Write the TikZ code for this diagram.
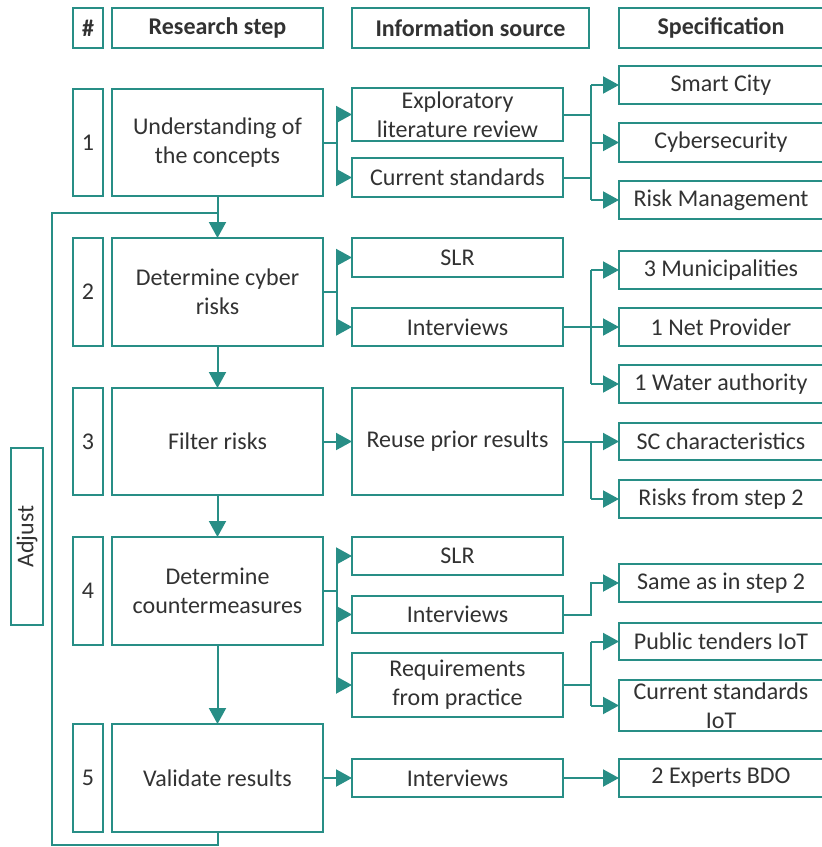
\documentclass[tikz,border=0pt]{standalone}
\usepackage{fontspec}
\setmainfont{Carlito}
\usetikzlibrary{arrows.meta}
\definecolor{tealline}{RGB}{40,142,134}
\definecolor{ink}{RGB}{50,50,50}
\tikzset{
  box/.style={draw=tealline, line width=1.8pt, fill=white, text=ink, align=center,
              inner sep=0pt, outer sep=0pt, font=\fontsize{24}{29}\selectfont},
  headbox/.style={box, font=\fontsize{24}{29}\selectfont\bfseries},
  link/.style={draw=tealline, line width=2pt},
  arr/.style={link, -{Triangle[length=16pt,width=17pt]}},
}
% \bx{style}{name}{x1}{y1}{x2}{y2}{text}: box spanning the given corners
\newcommand\bx[7]{%
  \node[#1, minimum width={#5-#3}, minimum height={#6-#4}] (#2)
    at ({(#3+#5)/2},{(#4+#6)/2}) {#7};}
\begin{document}
\begin{tikzpicture}[x=1pt, y=-1pt]
\useasboundingbox (0,0) rectangle (822,847);

% column headers
\bx{headbox}{hnum}{73}{8}{103}{48}{\#}
\bx{headbox}{hstep}{112}{8}{323}{48}{Research step}
\bx{headbox}{hsrc}{352}{8}{589}{48}{Information source}
\bx{headbox}{hspec}{619}{8}{823}{48}{Specification}

% step numbers
\bx{box}{n1}{73}{89}{103}{196}{1}
\bx{box}{n2}{73}{238}{103}{346}{2}
\bx{box}{n3}{73}{388}{103}{495}{3}
\bx{box}{n4}{73}{537}{103}{645}{4}
\bx{box}{n5}{73}{724}{103}{832}{5}

% research steps
\bx{box}{s1}{112}{89}{323}{196}{Understanding of\\the concepts}
\bx{box}{s2}{112}{238}{323}{346}{Determine cyber\\risks}
\bx{box}{s3}{112}{388}{323}{495}{Filter risks}
\bx{box}{s4}{112}{537}{323}{645}{Determine\\countermeasures}
\bx{box}{s5}{112}{724}{323}{832}{Validate results}

% information sources
\bx{box}{i1a}{352}{88}{563}{141}{Exploratory\\literature review}
\bx{box}{i1b}{352}{158}{563}{197}{Current standards}
\bx{box}{i2a}{352}{238}{563}{277}{SLR}
\bx{box}{i2b}{352}{308}{563}{346}{Interviews}
\bx{box}{i3}{352}{388}{563}{495}{Reuse prior results}
\bx{box}{i4a}{352}{537}{563}{575}{SLR}
\bx{box}{i4b}{352}{596}{563}{633}{Interviews}
\bx{box}{i4c}{352}{653}{563}{717}{Requirements\\from practice}
\bx{box}{i5}{352}{759}{563}{797}{Interviews}

% specifications
\bx{box}{p1a}{619}{66}{823}{104}{Smart City}
\bx{box}{p1b}{619}{123}{823}{162}{Cybersecurity}
\bx{box}{p1c}{619}{181}{823}{219}{Risk Management}
\bx{box}{p2a}{619}{251}{823}{289}{3 Municipalities}
\bx{box}{p2b}{619}{308}{823}{346}{1 Net Provider}
\bx{box}{p2c}{619}{365}{823}{403}{1 Water authority}
\bx{box}{p3a}{619}{423}{823}{460}{SC characteristics}
\bx{box}{p3b}{619}{480}{823}{518}{Risks from step 2}
\bx{box}{p4a}{619}{564}{823}{602}{Same as in step 2}
\bx{box}{p4b}{619}{623}{823}{660}{Public tenders IoT}
\bx{box}{p4c}{619}{680}{823}{731}{Current standards\\IoT}
\bx{box}{p5}{619}{759}{823}{797}{2 Experts BDO}

% feedback box
\node[box, rotate=90, minimum width=177, minimum height=32] (adj) at (27,536.5) {Adjust};

% spine shared by the specification fan-outs
\coordinate (sp) at (591,0);
\coordinate (lp) at (52,213);

% step to step
\draw[arr] (s1.south) -- (s2.north);
\draw[arr] (s2.south) -- (s3.north);
\draw[arr] (s3.south) -- (s4.north);
\draw[arr] (s4.south) -- (s5.north);

% feedback loop from the last step back above step 2
\draw[link] (s5.south) -- ++(0,13) -| (lp) -- (lp -| s1.south);

% row 1
\draw[link] (s1.east) -- ++(14,0) coordinate (b1);
\draw[arr] (b1) |- (i1a);
\draw[arr] (b1) |- (i1b);
\draw[link] (i1a.east) -- (sp |- i1a.east);
\draw[link] (i1b.east) -- (sp |- i1b.east);
\draw[link] (sp |- p1a) -- (sp |- p1c);
\draw[arr] (sp |- p1a) -- (p1a);
\draw[arr] (sp |- p1b) -- (p1b);
\draw[arr] (sp |- p1c) -- (p1c);

% row 2
\draw[link] (s2.east) -- ++(14,0) coordinate (b2);
\draw[arr] (b2) |- (i2a);
\draw[arr] (b2) |- (i2b);
\draw[link] (i2b.east) -- (sp |- i2b.east);
\draw[link] (sp |- p2a) -- (sp |- p2c);
\draw[arr] (sp |- p2a) -- (p2a);
\draw[arr] (sp |- p2b) -- (p2b);
\draw[arr] (sp |- p2c) -- (p2c);

% row 3
\draw[arr] (s3.east) -- (i3.west);
\draw[link] (i3.east) -- (sp |- i3.east);
\draw[link] (sp |- p3a) -- (sp |- p3b);
\draw[arr] (sp |- p3a) -- (p3a);
\draw[arr] (sp |- p3b) -- (p3b);

% row 4
\draw[link] (s4.east) -- ++(14,0) coordinate (b4);
\draw[arr] (b4) |- (i4a);
\draw[arr] (b4) |- (i4b);
\draw[arr] (b4) |- (i4c);
\draw[arr] (i4b.east) -- (sp |- i4b.east) |- (p4a);
\draw[link] (i4c.east) -- (sp |- i4c.east);
\draw[link] (sp |- p4b) -- (sp |- p4c);
\draw[arr] (sp |- p4b) -- (p4b);
\draw[arr] (sp |- p4c) -- (p4c);

% row 5
\draw[arr] (s5.east) -- (i5.west);
\draw[arr] (i5.east) -- (p5.west);
\end{tikzpicture}
\end{document}
